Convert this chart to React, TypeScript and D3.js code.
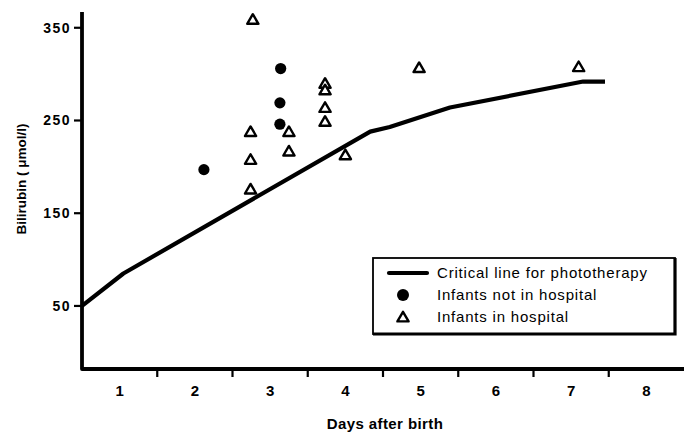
import React, { useEffect, useRef } from "react";
import * as d3 from "d3";

// critical line for phototherapy
const curveDays = [0.5, 1.05, 4.33, 4.59, 5.39, 7.16, 7.45];
const curveBili = [50, 85, 238, 243, 264, 292, 292];

// infants not in hospital (filled dots)
const homeDays = [2.12, 3.13, 3.13, 3.14];
const homeBili = [197, 246, 269, 306];

// infants in hospital (open triangles)
const hospDays = [2.77, 2.74, 2.74, 2.74, 3.25, 3.25, 3.73, 3.73, 3.73, 3.73, 4.0, 4.98, 7.1];
const hospBili = [359, 238, 208, 176, 238, 217, 290, 283, 264, 249, 213, 307, 308];

const xTickLabels = [1, 2, 3, 4, 5, 6, 7, 8];
const xTickMarks = [1.5, 2.5, 3.5, 4.5, 5.5, 6.5, 7.5];
const yTicks = [50, 150, 250, 350];

const legendItems = [
  "Critical line for phototherapy",
  "Infants not in hospital",
  "Infants in hospital",
];

const FONT = "'Liberation Sans', Arial, Helvetica, sans-serif";
const TRI = "M0,-5.2L5.6,4.4L-5.6,4.4Z";

function Chart() {
  const svgRef = useRef<SVGSVGElement>(null);

  useEffect(() => {
    const width = 684;
    const height = 434;
    const svg = d3.select(svgRef.current);
    svg.selectAll("*").remove();
    svg.attr("width", width).attr("height", height);

    const x = d3.scaleLinear().domain([0.5, 8.5]).range([82, 684]);
    const y = d3.scaleLinear().domain([-18, 367]).range([369, 12]);

    // axes frame
    svg
      .append("path")
      .attr("d", `M${x(0.5)},${y(367)}V${y(-18)}H${x(8.5)}`)
      .attr("fill", "none")
      .attr("stroke", "#000")
      .attr("stroke-width", 3.8)
      .attr("stroke-linejoin", "round");

    // y ticks
    yTicks.forEach((t) => {
      svg
        .append("line")
        .attr("x1", x(0.5) - 8)
        .attr("x2", x(0.5))
        .attr("y1", y(t))
        .attr("y2", y(t))
        .attr("stroke", "#000")
        .attr("stroke-width", 2.2);
      svg
        .append("text")
        .attr("x", x(0.5) - 11)
        .attr("y", y(t) + 5)
        .attr("text-anchor", "end")
        .style("font-family", FONT)
        .style("font-size", "14px")
        .style("font-weight", "bold")
        .style("letter-spacing", "1.5px")
        .text(t);
    });

    // x ticks (marks between days, labels on days)
    xTickMarks.forEach((t) => {
      svg
        .append("line")
        .attr("x1", x(t))
        .attr("x2", x(t))
        .attr("y1", y(-18))
        .attr("y2", y(-18) + 8)
        .attr("stroke", "#000")
        .attr("stroke-width", 2.2);
    });
    xTickLabels.forEach((t) => {
      svg
        .append("text")
        .attr("x", x(t))
        .attr("y", 396)
        .attr("text-anchor", "middle")
        .style("font-family", FONT)
        .style("font-size", "15px")
        .style("font-weight", "bold")
        .text(t);
    });

    // axis titles
    svg
      .append("text")
      .attr("x", 385)
      .attr("y", 429)
      .attr("text-anchor", "middle")
      .style("font-family", FONT)
      .style("font-size", "15px")
      .style("font-weight", "bold")
      .style("letter-spacing", "0.4px")
      .text("Days after birth");

    svg
      .append("text")
      .attr("transform", "rotate(-90)")
      .attr("x", -179)
      .attr("y", 26)
      .attr("text-anchor", "middle")
      .style("font-family", FONT)
      .style("font-size", "13.5px")
      .style("font-weight", "bold")
      .text("Bilirubin ( μmol/l)");

    // critical line
    const line = d3
      .line<number>()
      .x((d) => x(curveDays[d]))
      .y((d) => y(curveBili[d]));
    svg
      .append("path")
      .datum(d3.range(curveDays.length))
      .attr("d", line)
      .attr("fill", "none")
      .attr("stroke", "#000")
      .attr("stroke-width", 4.2)
      .attr("stroke-linejoin", "round");

    // dots
    svg
      .append("g")
      .selectAll("circle")
      .data(d3.range(homeDays.length))
      .join("circle")
      .attr("cx", (i) => x(homeDays[i]))
      .attr("cy", (i) => y(homeBili[i]))
      .attr("r", 5.6)
      .attr("fill", "#000");

    // triangles
    svg
      .append("g")
      .selectAll("path")
      .data(d3.range(hospDays.length))
      .join("path")
      .attr("d", TRI)
      .attr("transform", (i) => `translate(${x(hospDays[i])},${y(hospBili[i])})`)
      .attr("fill", "#fff")
      .attr("stroke", "#000")
      .attr("stroke-width", 2.4)
      .attr("stroke-linejoin", "round");

    // legend
    const legend = svg.append("g").attr("transform", "translate(373,258)");
    legend
      .append("rect")
      .attr("x", 0)
      .attr("y", 0)
      .attr("width", 302)
      .attr("height", 76)
      .attr("fill", "#fff")
      .attr("stroke", "#000")
      .attr("stroke-width", 1.8);
    legend
      .append("path")
      .attr("d", "M302,0V76H0")
      .attr("fill", "none")
      .attr("stroke", "#000")
      .attr("stroke-width", 3.2);

    legend
      .append("line")
      .attr("x1", 16)
      .attr("x2", 54)
      .attr("y1", 15)
      .attr("y2", 15)
      .attr("stroke", "#000")
      .attr("stroke-width", 4.2)
      .attr("stroke-linecap", "round");
    legend.append("circle").attr("cx", 30).attr("cy", 37).attr("r", 6).attr("fill", "#000");
    legend
      .append("path")
      .attr("d", TRI)
      .attr("transform", "translate(30,59)")
      .attr("fill", "#fff")
      .attr("stroke", "#000")
      .attr("stroke-width", 2.4)
      .attr("stroke-linejoin", "round");

    legendItems.forEach((label, i) => {
      legend
        .append("text")
        .attr("x", 64)
        .attr("y", 20 + i * 22)
        .style("font-family", FONT)
        .style("font-size", "15px")
        .style("letter-spacing", "0.8px")
        .text(label);
    });
  }, []);

  return <svg ref={svgRef} style={{ position: "absolute", left: 0, top: 0 }}></svg>;
}

export default function App() {
  return <Chart />;
}
